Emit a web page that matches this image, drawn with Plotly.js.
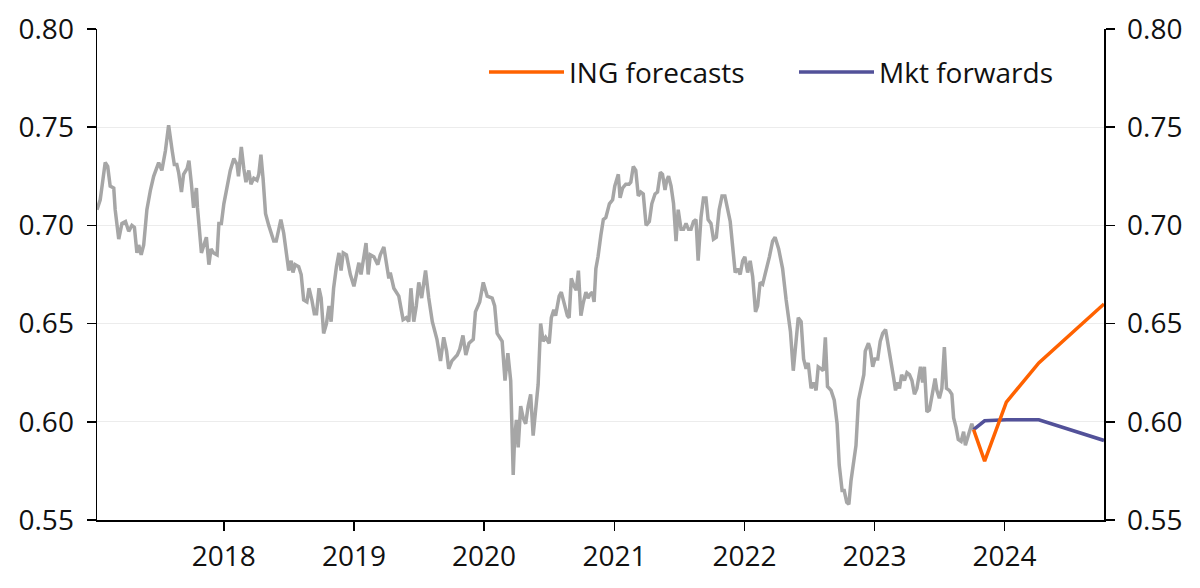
<!DOCTYPE html>
<html>
<head>
<meta charset="utf-8">
<script src="https://cdn.plot.ly/plotly-3.0.1.min.js"></script>
<style>
  html, body { margin: 0; padding: 0; background: #fff; }
  #chart { width: 1200px; height: 588px; }
</style>
</head>
<body>
<div id="chart"></div>
<script>
// NZD/USD history, weekly-ish (decimal years)
var spotYears = [
  2017.026, 2017.051, 2017.090, 2017.108, 2017.128, 2017.154, 2017.167, 2017.192, 2017.218, 2017.244,
  2017.269, 2017.295, 2017.313, 2017.333, 2017.346, 2017.367, 2017.385, 2017.410, 2017.436, 2017.462,
  2017.500, 2017.526, 2017.551, 2017.577, 2017.603, 2017.621, 2017.641, 2017.654, 2017.674, 2017.692,
  2017.718, 2017.733, 2017.751, 2017.769, 2017.790, 2017.800, 2017.828, 2017.846, 2017.867, 2017.885,
  2017.903, 2017.923, 2017.949, 2017.962, 2017.982, 2018.000, 2018.026, 2018.051, 2018.077, 2018.103,
  2018.115, 2018.136, 2018.154, 2018.172, 2018.192, 2018.210, 2018.231, 2018.256, 2018.269, 2018.287,
  2018.303, 2018.321, 2018.346, 2018.385, 2018.405, 2018.441, 2018.462, 2018.487, 2018.500, 2018.518,
  2018.533, 2018.549, 2018.577, 2018.595, 2018.615, 2018.641, 2018.656, 2018.679, 2018.697, 2018.713,
  2018.733, 2018.749, 2018.769, 2018.790, 2018.810, 2018.826, 2018.846, 2018.867, 2018.885, 2018.903,
  2018.918, 2018.944, 2018.974, 2019.000, 2019.026, 2019.041, 2019.056, 2019.077, 2019.095, 2019.110,
  2019.128, 2019.154, 2019.185, 2019.205, 2019.231, 2019.251, 2019.269, 2019.282, 2019.308, 2019.346,
  2019.379, 2019.405, 2019.423, 2019.441, 2019.462, 2019.482, 2019.500, 2019.521, 2019.551, 2019.577,
  2019.603, 2019.641, 2019.667, 2019.692, 2019.713, 2019.731, 2019.756, 2019.795, 2019.815, 2019.841,
  2019.862, 2019.885, 2019.918, 2019.936, 2019.969, 2019.995, 2020.026, 2020.064, 2020.082, 2020.103,
  2020.123, 2020.141, 2020.162, 2020.185, 2020.205, 2020.226, 2020.236, 2020.249, 2020.264, 2020.282,
  2020.303, 2020.321, 2020.341, 2020.359, 2020.379, 2020.397, 2020.418, 2020.436, 2020.456, 2020.474,
  2020.500, 2020.518, 2020.538, 2020.551, 2020.577, 2020.595, 2020.615, 2020.641, 2020.654, 2020.672,
  2020.692, 2020.708, 2020.726, 2020.744, 2020.762, 2020.782, 2020.800, 2020.815, 2020.833, 2020.846,
  2020.859, 2020.877, 2020.897, 2020.918, 2020.936, 2020.962, 2020.987, 2021.005, 2021.031, 2021.046,
  2021.064, 2021.090, 2021.115, 2021.128, 2021.146, 2021.167, 2021.185, 2021.205, 2021.223, 2021.244,
  2021.269, 2021.290, 2021.315, 2021.333, 2021.354, 2021.372, 2021.390, 2021.405, 2021.418, 2021.436,
  2021.456, 2021.474, 2021.492, 2021.513, 2021.533, 2021.551, 2021.572, 2021.590, 2021.610, 2021.628,
  2021.646, 2021.667, 2021.685, 2021.705, 2021.723, 2021.744, 2021.764, 2021.785, 2021.808, 2021.828,
  2021.851, 2021.872, 2021.892, 2021.910, 2021.931, 2021.949, 2021.969, 2021.987, 2022.005, 2022.026,
  2022.046, 2022.064, 2022.085, 2022.103, 2022.123, 2022.141, 2022.167, 2022.192, 2022.218, 2022.238,
  2022.264, 2022.295, 2022.321, 2022.354, 2022.377, 2022.397, 2022.415, 2022.436, 2022.456, 2022.474,
  2022.492, 2022.513, 2022.533, 2022.551, 2022.569, 2022.590, 2022.608, 2022.623, 2022.641, 2022.667,
  2022.692, 2022.713, 2022.731, 2022.751, 2022.769, 2022.787, 2022.803, 2022.821, 2022.841, 2022.859,
  2022.877, 2022.897, 2022.918, 2022.931, 2022.954, 2022.969, 2022.987, 2023.005, 2023.026, 2023.046,
  2023.064, 2023.085, 2023.103, 2023.128, 2023.149, 2023.162, 2023.179, 2023.192, 2023.210, 2023.231,
  2023.251, 2023.269, 2023.290, 2023.308, 2023.328, 2023.354, 2023.372, 2023.385, 2023.405, 2023.423,
  2023.449, 2023.467, 2023.482, 2023.500, 2023.518, 2023.538, 2023.556, 2023.577, 2023.595, 2023.610,
  2023.628, 2023.646, 2023.667, 2023.685, 2023.700, 2023.718, 2023.731, 2023.749, 2023.764
];

var spotValues = [
  0.708, 0.713, 0.732, 0.730, 0.720, 0.719, 0.708, 0.693, 0.701, 0.702,
  0.697, 0.700, 0.699, 0.686, 0.690, 0.685, 0.690, 0.708, 0.718, 0.725,
  0.732, 0.728, 0.738, 0.751, 0.738, 0.731, 0.731, 0.727, 0.717, 0.726,
  0.729, 0.733, 0.721, 0.709, 0.719, 0.709, 0.686, 0.690, 0.694, 0.680,
  0.688, 0.686, 0.685, 0.701, 0.701, 0.711, 0.720, 0.728, 0.734, 0.731,
  0.725, 0.740, 0.729, 0.722, 0.728, 0.721, 0.724, 0.723, 0.726, 0.736,
  0.724, 0.706, 0.700, 0.692, 0.692, 0.703, 0.696, 0.685, 0.677, 0.682,
  0.676, 0.680, 0.679, 0.675, 0.662, 0.661, 0.668, 0.662, 0.655, 0.655,
  0.668, 0.663, 0.645, 0.650, 0.659, 0.651, 0.668, 0.679, 0.686, 0.677,
  0.686, 0.685, 0.675, 0.669, 0.677, 0.681, 0.675, 0.685, 0.691, 0.675,
  0.685, 0.684, 0.680, 0.685, 0.689, 0.681, 0.673, 0.676, 0.668, 0.664,
  0.652, 0.653, 0.651, 0.668, 0.651, 0.659, 0.671, 0.663, 0.677, 0.663,
  0.651, 0.642, 0.631, 0.643, 0.636, 0.627, 0.631, 0.634, 0.637, 0.644,
  0.634, 0.640, 0.642, 0.656, 0.661, 0.671, 0.664, 0.663, 0.659, 0.645,
  0.643, 0.641, 0.621, 0.635, 0.621, 0.573, 0.592, 0.601, 0.587, 0.608,
  0.602, 0.599, 0.608, 0.614, 0.593, 0.607, 0.619, 0.650, 0.641, 0.643,
  0.640, 0.653, 0.657, 0.654, 0.664, 0.666, 0.660, 0.654, 0.653, 0.673,
  0.669, 0.667, 0.677, 0.654, 0.660, 0.666, 0.663, 0.665, 0.666, 0.661,
  0.678, 0.684, 0.695, 0.703, 0.704, 0.711, 0.713, 0.720, 0.726, 0.714,
  0.719, 0.721, 0.721, 0.722, 0.730, 0.728, 0.715, 0.717, 0.716, 0.700,
  0.702, 0.711, 0.716, 0.717, 0.727, 0.726, 0.718, 0.723, 0.725, 0.720,
  0.711, 0.692, 0.708, 0.698, 0.698, 0.701, 0.698, 0.698, 0.702, 0.703,
  0.682, 0.704, 0.714, 0.714, 0.703, 0.701, 0.693, 0.694, 0.708, 0.715,
  0.715, 0.709, 0.702, 0.689, 0.676, 0.678, 0.675, 0.682, 0.684, 0.676,
  0.682, 0.674, 0.656, 0.659, 0.671, 0.670, 0.676, 0.684, 0.692, 0.694,
  0.688, 0.678, 0.662, 0.646, 0.626, 0.641, 0.653, 0.651, 0.632, 0.627,
  0.630, 0.617, 0.620, 0.616, 0.628, 0.627, 0.626, 0.643, 0.618, 0.616,
  0.611, 0.599, 0.578, 0.565, 0.565, 0.559, 0.558, 0.570, 0.580, 0.588,
  0.611, 0.617, 0.624, 0.636, 0.640, 0.637, 0.628, 0.632, 0.632, 0.641,
  0.645, 0.647, 0.641, 0.630, 0.622, 0.616, 0.620, 0.617, 0.624, 0.621,
  0.625, 0.624, 0.621, 0.614, 0.617, 0.628, 0.620, 0.628, 0.605, 0.606,
  0.614, 0.622, 0.616, 0.612, 0.617, 0.638, 0.617, 0.616, 0.614, 0.602,
  0.597, 0.591, 0.590, 0.595, 0.588, 0.592, 0.595, 0.599, 0.596
];

// spot, 1M, 3M, 6M, 12M
var forecastDates = ["2023-10-06", "2023-11-06", "2024-01-06", "2024-04-06", "2024-10-06"];
var ingForecasts = [0.596, 0.580, 0.610, 0.630, 0.660];
var mktForwards = [0.596, 0.6005, 0.601, 0.601, 0.5905];

var yTicks = [0.55, 0.60, 0.65, 0.70, 0.75, 0.80];
var yTickLabels = ["0.55", "0.60", "0.65", "0.70", "0.75", "0.80"];
var xTickDates = ["2018-01-01", "2019-01-01", "2020-01-01", "2021-01-01", "2022-01-01", "2023-01-01", "2024-01-01"];
var xTickLabels = ["2018", "2019", "2020", "2021", "2022", "2023", "2024"];

function yearToDate(t) {
    var y = Math.floor(t);
    var start = Date.UTC(y, 0, 1);
    var end = Date.UTC(y + 1, 0, 1);
    var d = new Date(start + (t - y) * (end - start));
    return d.toISOString().slice(0, 10);
}

var spotDates = spotYears.map(yearToDate);

var FONT = "Open Sans, sans-serif";
var GRID = "#ececec";

var traceSpot = {
    type: "scatter",
    mode: "lines",
    x: spotDates,
    y: spotValues,
    line: { color: "#a6a6a6", width: 3.5 },
    showlegend: false,
};

var traceMkt = {
    name: "Mkt forwards",
    type: "scatter",
    mode: "lines",
    x: forecastDates,
    y: mktForwards,
    yaxis: "y2",
    line: { color: "#525199", width: 3.5 },
    legendrank: 2,
};

var traceIng = {
    name: "ING forecasts",
    type: "scatter",
    mode: "lines",
    x: forecastDates,
    y: ingForecasts,
    yaxis: "y2",
    line: { color: "#ff6200", width: 3.5 },
    legendrank: 1,
};

var yCommon = {
    range: [yTicks[0], yTicks[yTicks.length - 1]],
    tickvals: yTicks,
    ticktext: yTickLabels,
    ticks: "outside",
    ticklen: 9,
    tickwidth: 1.5,
    tickcolor: "#000",
    showline: true,
    linecolor: "#000",
    linewidth: 1.5,
    zeroline: false,
    ticklabelstandoff: 7,
    tickfont: { family: FONT, size: 28, color: "#111" },
};

var layout = {
    width: 1200,
    height: 588,
    margin: { l: 97, r: 96, t: 29, b: 68 },
    paper_bgcolor: "#fff",
    plot_bgcolor: "#fff",
    hovermode: false,
    showlegend: true,
    legend: {
        orientation: "h",
        x: 1.0,
        xanchor: "right",
        y: 0.912,
        yanchor: "middle",
        font: { family: FONT, size: 28, color: "#111" },
        bgcolor: "rgba(0,0,0,0)",
        itemwidth: 75,
        entrywidth: 220,
        entrywidthmode: "pixels",
    },
    xaxis: {
        type: "date",
        range: [spotDates[0], forecastDates[forecastDates.length - 1]],
        tickvals: xTickDates,
        ticktext: xTickLabels,
        ticks: "outside",
        ticklen: 9,
        tickwidth: 1.5,
        tickcolor: "#000",
        showline: true,
        linecolor: "#000",
        linewidth: 1.5,
        showgrid: false,
        zeroline: false,
        ticklabelstandoff: 2,
        tickfont: { family: FONT, size: 28, color: "#111" },
    },
    yaxis: Object.assign({}, yCommon, {
        side: "left",
        showgrid: true,
        gridcolor: GRID,
        gridwidth: 1,
    }),
    yaxis2: Object.assign({}, yCommon, {
        side: "right",
        overlaying: "y",
        showgrid: false,
    }),
};

Plotly.newPlot("chart", [traceSpot, traceMkt, traceIng], layout, { displayModeBar: false, staticPlot: true });
</script>
</body>
</html>
